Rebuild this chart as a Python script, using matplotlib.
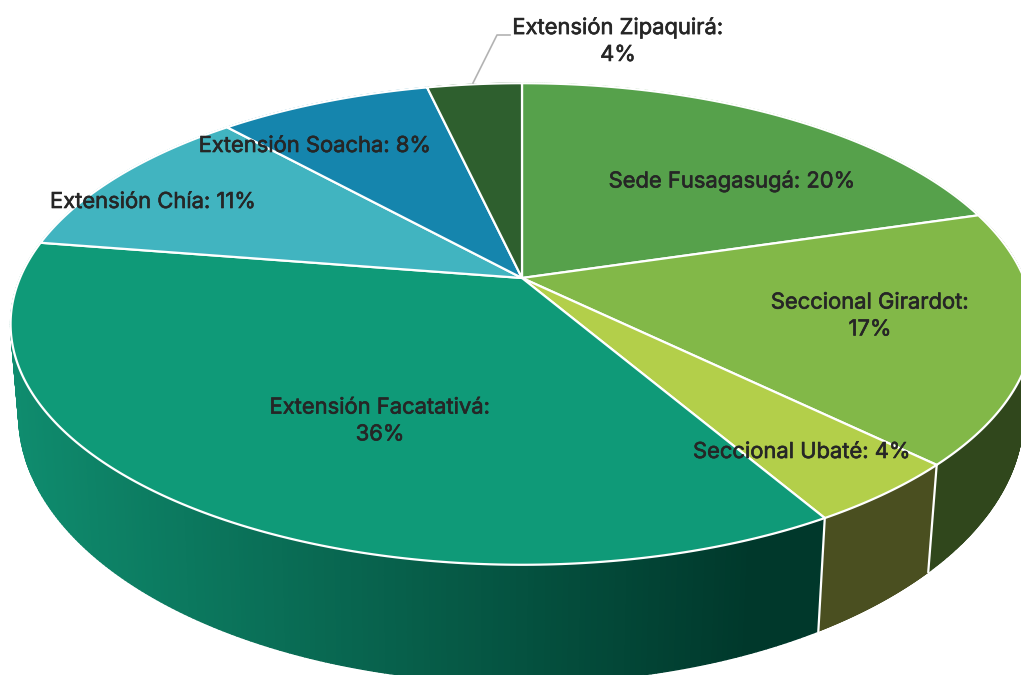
# --------------> IMPORT LIBRARIES
import numpy as np
import matplotlib
matplotlib.use('Agg')
import matplotlib.pyplot as plt
import matplotlib.patheffects as pe
from matplotlib.collections import PolyCollection

# --------------> DATA
names = ['Sede Fusagasugá', 'Seccional Girardot', 'Seccional Ubaté', 'Extensión Facatativá',
         'Extensión Chía', 'Extensión Soacha', 'Extensión Zipaquirá']
values = [20.4, 16.9, 4.3, 35.9, 10.8, 8.1, 3.6]
colors = ['#56a14b', '#82b848', '#b3cf4a', '#0f9a78', '#41b4c0', '#1585ad', '#2e5f2e']
side_left = ['#56a14b', '#30471c', '#4a4f20', '#0f8c6e', '#41b4c0', '#1585ad', '#2e5f2e']
side_right = ['#56a14b', '#30471c', '#4a4f20', '#00382b', '#41b4c0', '#1585ad', '#2e5f2e']
label_pos = [(732, 181), (870, 316), (802, 452), (380, 421), (153, 202), (315, 146), (618, 41)]
label_wrap = [False, True, False, True, False, False, True]

plt.rcParams['font.family'] = ['Inter', 'DejaVu Sans']

# --------------> PROJECTION OF THE TILTED DISC
def project(t, cx, cy, f, g, a=0.191):
    x, y = np.sin(t), np.cos(t)
    d = 1 + a * y
    return cx + f * x / d, cy - g * y / d

def top_rim(t):
    return project(t, 522, 278, 502, 232)

def low_rim(t):
    return project(t, 521, 364, 493, 258)

def hex_rgb(c):
    return np.array(matplotlib.colors.to_rgb(c))

fig = plt.figure(figsize=(10.21, 6.75), dpi=100)
ax = fig.add_axes([0, 0, 1, 1])
ax.set_xlim(0, 1021)
ax.set_ylim(675, 0)
ax.axis('off')

edges = np.cumsum([0] + values) / sum(values) * 2 * np.pi

# --------------> SIDE WALL, THIN STRIPS FOR THE SHADING
for i in range(len(values)):
    tt = np.linspace(edges[i], edges[i + 1], 240)
    xt, yt = top_rim(tt)
    xb, yb = low_rim(tt)
    polys, cols = [], []
    for k in range(len(tt) - 1):
        polys.append([(xt[k], yt[k]), (xt[k + 1], yt[k + 1]), (xb[k + 1], yb[k + 1]), (xb[k], yb[k])])
        mix = np.clip((xb[k] - 20) / 730, 0, 1)
        cols.append(hex_rgb(side_left[i]) * (1 - mix) + hex_rgb(side_right[i]) * mix)
    ax.add_collection(PolyCollection(polys, facecolors=cols, edgecolors=cols, linewidths=1.0, zorder=1))

# white seams between the wall pieces at the front
for e in edges[2:4]:
    xt, yt = top_rim(e)
    xb, yb = low_rim(e)
    ax.plot([xt, xb], [yt, yb], color='white', lw=1.6, zorder=2)

# --------------> TOP FACE
for i in range(len(values)):
    tt = np.linspace(edges[i], edges[i + 1], 200)
    xt, yt = top_rim(tt)
    ax.fill(np.r_[522, xt], np.r_[278, yt], facecolor=colors[i], edgecolor='white', lw=1.6,
            joinstyle='round', zorder=3)

# --------------> LABELS
for i, name in enumerate(names):
    sep = '\n' if label_wrap[i] else ' '
    ax.text(label_pos[i][0], label_pos[i][1], f'{name}:{sep}{round(values[i])}%', ha='center', va='center',
            fontsize=15.8, color='#262626', linespacing=1.43, zorder=5,
            path_effects=[pe.withStroke(linewidth=0.45, foreground='#262626')])

# leader line for the small slice
ax.plot([473, 497, 510], [83, 35, 35], color='#b3b3b3', lw=1.2, zorder=4)

fig.savefig('out.png', dpi=100)
